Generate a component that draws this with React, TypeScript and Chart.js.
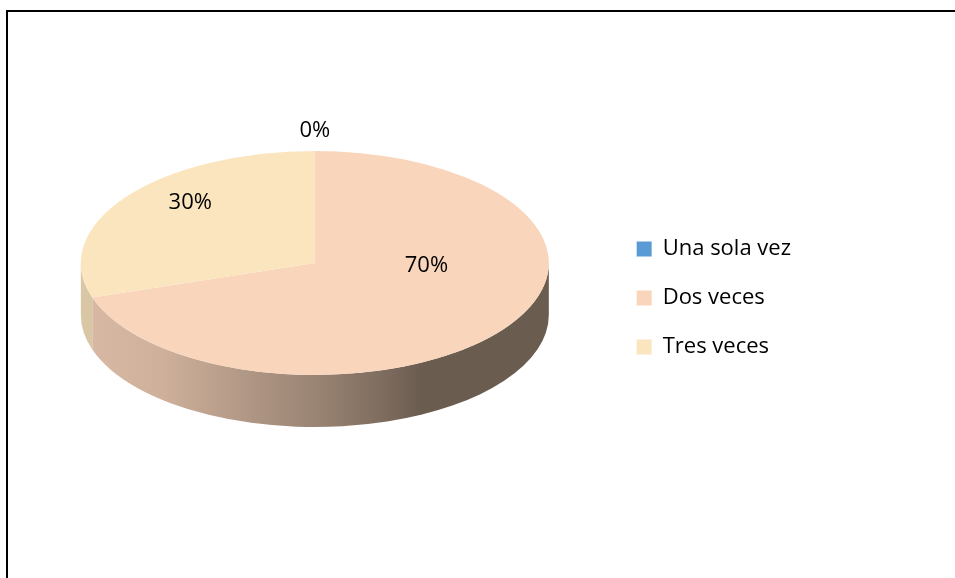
import { useEffect, useRef } from "react";
import { Chart, registerables } from "chart.js";

Chart.register(...registerables);

// ---- data ----
const categories = ["Una sola vez", "Dos veces", "Tres veces"];
const shares = [0, 70, 30];
const sliceColors = ["#5B9BD5", "#F9D5BB", "#FBE5BF"];

// ---- styling constants ----
const FONT = "'Open Sans', 'Noto Sans', sans-serif";
const TILT = 0.4786; // vertical squash of the pie (3D view)
const DEPTH = 52; // thickness of the pie wall
const LIFT = 35; // vertical shift of the tilted pie
const WALL_SHADE: [number, number][] = [
  [0, 0.87],
  [0.17, 0.83],
  [0.34, 0.72],
  [0.5, 0.62],
  [0.64, 0.51],
  [0.73, 0.43],
  [1, 0.43],
];
const LABEL_NUDGE: [number, number][] = [
  [0, -20],
  [-2, -37],
  [-11, -21],
];

function hexToRgb(h: string): number[] {
  const v = h.replace("#", "");
  return [0, 2, 4].map((i) => parseInt(v.slice(i, i + 2), 16));
}

const pie3d = {
  id: "pie3d",
  beforeDatasetsDraw(chart: any) {
    const arcs = chart.getDatasetMeta(0).data;
    const ctx = chart.ctx;
    const { x, y, outerRadius } = arcs[0].getProps(["x", "y", "outerRadius"], true);
    const cx = x;
    const cy = y - LIFT;
    const rx = outerRadius;
    const ry = outerRadius * TILT;
    ctx.save();
    arcs.forEach((arc: any, i: number) => {
      const { startAngle, endAngle } = arc.getProps(["startAngle", "endAngle"], true);
      if (endAngle - startAngle <= 0) return;
      const rgb = hexToRgb(sliceColors[i]);
      const grad = ctx.createLinearGradient(cx - rx, 0, cx + rx, 0);
      WALL_SHADE.forEach(([t, f]) =>
        grad.addColorStop(t, `rgb(${rgb.map((c) => Math.round(c * f)).join(",")})`)
      );
      for (let k = -1; k <= 1; k++) {
        const lo = Math.max(startAngle, 2 * Math.PI * k);
        const hi = Math.min(endAngle, 2 * Math.PI * k + Math.PI);
        if (hi <= lo) continue;
        ctx.beginPath();
        ctx.ellipse(cx, cy, rx, ry, 0, lo, hi, false);
        ctx.ellipse(cx, cy + DEPTH, rx, ry, 0, hi, lo, true);
        ctx.closePath();
        ctx.fillStyle = grad;
        ctx.fill();
      }
    });
    ctx.restore();
    ctx.save();
    ctx.translate(cx, cy);
    ctx.scale(1, TILT);
    ctx.translate(-x, -y);
  },
  afterDatasetsDraw(chart: any) {
    const ctx = chart.ctx;
    ctx.restore();
    const arcs = chart.getDatasetMeta(0).data;
    const values: number[] = chart.data.datasets[0].data;
    const total = values.reduce((a, b) => a + b, 0);
    const { x, y, outerRadius } = arcs[0].getProps(["x", "y", "outerRadius"], true);
    const cx = x;
    const cy = y - LIFT;
    const rx = outerRadius;
    const ry = outerRadius * TILT;
    ctx.save();
    ctx.font = `22px ${FONT}`;
    ctx.fillStyle = "#000";
    ctx.textAlign = "center";
    ctx.textBaseline = "middle";
    arcs.forEach((arc: any, i: number) => {
      const { startAngle, endAngle } = arc.getProps(["startAngle", "endAngle"], true);
      const mid = (startAngle + endAngle) / 2;
      const v = values[i];
      const f = v === 0 ? 1 : 0.6;
      const lx = cx + Math.cos(mid) * rx * f + LABEL_NUDGE[i][0];
      const ly = cy + Math.sin(mid) * ry * f + LABEL_NUDGE[i][1];
      ctx.fillText(`${Math.round((v / total) * 100)}%`, lx, ly);
    });
    ctx.restore();
  },
};

export default function App() {
  const canvasRef = useRef<HTMLCanvasElement | null>(null);

  useEffect(() => {
    if (!canvasRef.current) return;
    const chart = new Chart(canvasRef.current, {
      type: "pie",
      data: {
        labels: categories,
        datasets: [
          {
            data: shares,
            backgroundColor: sliceColors,
            borderWidth: 0,
            hoverBorderWidth: 0,
            hoverOffset: 0,
            clip: false,
          } as any,
        ],
      },
      options: {
        responsive: false,
        animation: false,
        devicePixelRatio: 1,
        layout: { padding: { left: 20, right: 154, top: 64, bottom: 46 } },
        plugins: {
          tooltip: { enabled: false },
          legend: {
            position: "right",
            labels: {
              boxWidth: 15,
              boxHeight: 15,
              padding: 27,
              color: "#000",
              font: { family: FONT, size: 22 },
            },
          },
        },
      } as any,
      plugins: [pie3d],
    });
    return () => chart.destroy();
  }, []);

  return (
    <div style={{ position: "absolute", left: 0, top: 0, width: 955, height: 578, overflow: "hidden", background: "#fff" }}>
      <div
        style={{
          position: "absolute",
          left: 6,
          top: 10,
          width: 949,
          height: 568,
          borderLeft: "2px solid #000",
          borderTop: "2px solid #000",
          boxSizing: "border-box",
        }}
      />
      <canvas
        ref={canvasRef}
        width={955}
        height={578}
        style={{ position: "absolute", left: 0, top: 0, width: 955, height: 578 }}
      />
    </div>
  );
}
